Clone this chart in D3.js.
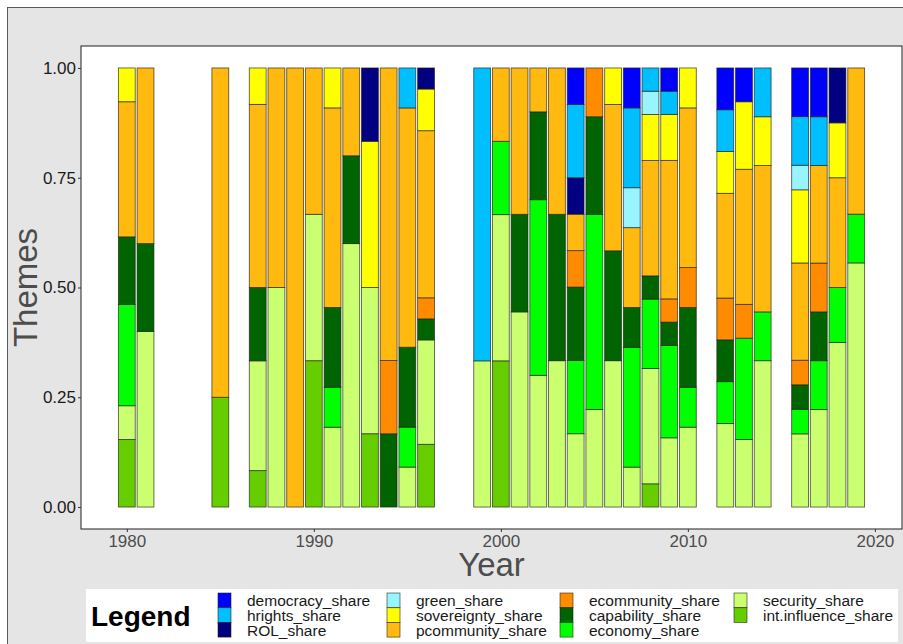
<!DOCTYPE html>
<html>
<head>
<meta charset="utf-8">
<script src="https://cdn.jsdelivr.net/npm/d3@7"></script>
<style>
  body { margin: 0; background: #fff; }
  text { font-family: "Liberation Sans", Arial, sans-serif; }
</style>
</head>
<body>
<svg id="chart" width="903" height="644"></svg>
<script>
var years = [1980, 1981, 1985, 1987, 1988, 1989, 1990, 1991, 1992, 1993, 1994, 1995, 1996,
             1999, 2000, 2001, 2002, 2003, 2004, 2005, 2006, 2007, 2008, 2009, 2010,
             2012, 2013, 2014, 2016, 2017, 2018, 2019];

// one value per year, same order as years
var democracy_share    = [0, 0, 0, 0, 0, 0, 0, 0, 0, 0, 0, 0, 0,   0, 0, 0, 0, 0, .083, 0, 0, .091, 0, .053, 0,   .095, .077, 0,   .111, .111, 0, 0];
var hrights_share      = [0, 0, 0, 0, 0, 0, 0, 0, 0, 0, 0, .091, 0,   .667, 0, 0, 0, 0, .167, 0, 0, .182, .053, .053, 0,   .095, 0, .111,   .111, .111, 0, 0];
var ROL_share          = [0, 0, 0, 0, 0, 0, 0, 0, 0, .167, 0, 0, .048,   0, 0, 0, 0, 0, .083, 0, 0, 0, 0, 0, 0,   0, 0, 0,   0, 0, .125, 0];
var green_share        = [0, 0, 0, 0, 0, 0, 0, 0, 0, 0, 0, 0, 0,   0, 0, 0, 0, 0, 0, 0, 0, .091, .053, 0, 0,   0, 0, 0,   .056, 0, 0, 0];
var sovereignty_share  = [.077, 0, 0, .083, 0, 0, 0, .091, 0, .333, 0, 0, .095,   0, 0, 0, 0, 0, 0, 0, .083, 0, .105, .105, .091,   .095, .154, .111,   .167, 0, .125, 0];
var pcommunity_share   = [.308, .4, .75, .417, .5, 1, .333, .455, .2, 0, .667, .545, .381,   0, .167, .333, .1, .333, .083, 0, .333, .182, .263, .316, .364,   .238, .308, .333,   .222, .222, .25, .333];
var ecommunity_share   = [0, 0, 0, 0, 0, 0, 0, 0, 0, 0, .167, 0, .048,   0, 0, 0, 0, 0, .083, .111, 0, 0, 0, .053, .091,   .095, .077, 0,   .056, .111, 0, 0];
var capability_share   = [.154, .2, 0, .167, 0, 0, 0, .182, .2, 0, .167, .182, .048,   0, 0, .222, .2, .333, .167, .222, .25, .091, .053, .053, .182,   .095, 0, 0,   .056, .111, 0, 0];
var economy_share      = [.231, 0, 0, 0, 0, 0, 0, .091, 0, 0, 0, .091, 0,   0, .167, 0, .4, 0, .167, .444, 0, .273, .158, .211, .091,   .095, .231, .111,   .056, .111, .125, .111];
var security_share     = [.077, .4, 0, .25, .5, 0, .333, .182, .6, .333, 0, .091, .238,   .333, .333, .444, .3, .333, .167, .222, .333, .091, .263, .158, .182,   .19, .154, .333,   .167, .222, .375, .556];
var influence_share    = [.154, 0, .25, .083, 0, 0, .333, 0, 0, .167, 0, 0, .143,   0, .333, 0, 0, 0, 0, 0, 0, 0, .053, 0, 0,   0, 0, 0,   0, 0, 0, 0];

var themes = ["democracy_share", "hrights_share", "ROL_share", "green_share", "sovereignty_share",
              "pcommunity_share", "ecommunity_share", "capability_share", "economy_share",
              "security_share", "int.influence_share"];
var colors = ["#0000FF", "#00BFFF", "#000080", "#98F5FF", "#FFFF00",
              "#FFB90F", "#FF8C00", "#006400", "#00FF00", "#CAFF70", "#66CD00"];
var seriesValues = [democracy_share, hrights_share, ROL_share, green_share, sovereignty_share,
                    pcommunity_share, ecommunity_share, capability_share, economy_share,
                    security_share, influence_share];
var yTicks = [0, 0.25, 0.5, 0.75, 1];
var xTicks = [1980, 1990, 2000, 2010, 2020];

(function() {
  var rows = years.map(function(yr, i) {
    var r = {year: yr};
    themes.forEach(function(t, k) { r[t] = seriesValues[k][i]; });
    return r;
  });

  var svg = d3.select("#chart");

  // outer grey plot background
  svg.append("rect")
      .attr("x", 7.5).attr("y", 7.5)
      .attr("width", 1000).attr("height", 1000)
      .attr("fill", "#e5e5e5")
      .attr("stroke", "#5a5a5a");

  var pl = 81, pr = 902, pt = 46, pb = 529;

  var x = d3.scaleLinear().domain([1977.55, 2021.45]).range([pl, pr]);
  var y = d3.scaleLinear().domain([-0.05, 1.05]).range([pb, pt]);
  var color = d3.scaleOrdinal().domain(themes).range(colors);

  svg.append("rect")
      .attr("x", pl).attr("y", pt)
      .attr("width", pr - pl).attr("height", pb - pt)
      .attr("fill", "#fff");

  // bottom layer is the last theme, so stack in reverse order
  var stack = d3.stack()
      .keys(themes.slice().reverse())
      .offset(d3.stackOffsetExpand);
  var layers = stack(rows);

  var bw = x(1980.45) - x(1979.55);

  svg.append("g").selectAll("g")
    .data(layers)
    .join("g")
      .attr("fill", function(d) { return color(d.key); })
    .selectAll("rect")
    .data(function(d) { return d.filter(function(p) { return p[1] - p[0] > 0; }); })
    .join("rect")
      .attr("x", function(d) { return x(d.data.year) - bw / 2; })
      .attr("y", function(d) { return y(d[1]); })
      .attr("width", bw)
      .attr("height", function(d) { return y(d[0]) - y(d[1]); })
      .attr("stroke", "rgba(30,30,20,0.7)")
      .attr("stroke-width", 0.9);

  // panel border
  svg.append("rect")
      .attr("x", pl).attr("y", pt)
      .attr("width", pr - pl).attr("height", pb - pt)
      .attr("fill", "none")
      .attr("stroke", "#333")
      .attr("stroke-width", 1.1);

  // y axis
  var yAxis = d3.axisLeft(y).tickValues(yTicks).tickFormat(d3.format(".2f")).tickSize(3).tickPadding(2);
  var gy = svg.append("g").attr("transform", "translate(" + pl + ",0)").call(yAxis);
  gy.select(".domain").remove();
  gy.selectAll(".tick line").attr("stroke", "#333");
  gy.selectAll(".tick text").attr("fill", "#1a1a1a").style("font-size", "17px")
      .style("font-family", "'Liberation Sans', Arial, sans-serif");

  // x axis
  var xAxis = d3.axisBottom(x).tickValues(xTicks).tickFormat(d3.format("d")).tickSize(3).tickPadding(3);
  var gx = svg.append("g").attr("transform", "translate(0," + pb + ")").call(xAxis);
  gx.select(".domain").remove();
  gx.selectAll(".tick line").attr("stroke", "#333");
  gx.selectAll(".tick text").attr("fill", "#4d4d4d").style("font-size", "17px")
      .style("font-family", "'Liberation Sans', Arial, sans-serif");

  // axis titles
  svg.append("text")
      .attr("x", (pl + pr) / 2).attr("y", 576)
      .attr("text-anchor", "middle")
      .attr("fill", "#4d4d4d")
      .style("font-size", "33px")
      .text("Year");

  svg.append("text")
      .attr("transform", "translate(37," + ((pt + pb) / 2) + ") rotate(-90)")
      .attr("text-anchor", "middle")
      .attr("fill", "#4d4d4d")
      .style("font-size", "33px")
      .text("Themes");

  // legend
  var lg = svg.append("g");
  lg.append("rect")
      .attr("x", 86).attr("y", 589)
      .attr("width", 812).attr("height", 53)
      .attr("fill", "#fff");
  lg.append("text")
      .attr("x", 91).attr("y", 626)
      .attr("fill", "#000")
      .style("font-size", "28px")
      .style("font-weight", "bold")
      .text("Legend");

  var colX = [218, 387, 560, 734];
  var keyH = 14.7;
  themes.forEach(function(t, i) {
    var col = Math.floor(i / 3), row = i % 3;
    var kx = colX[col], ky = 593 + row * keyH;
    lg.append("rect")
        .attr("x", kx).attr("y", ky)
        .attr("width", 13).attr("height", keyH)
        .attr("fill", color(t))
        .attr("stroke", "rgba(30,30,20,0.7)")
        .attr("stroke-width", 0.8);
    lg.append("text")
        .attr("x", kx + 29).attr("y", ky + keyH - 1.5)
        .attr("fill", "#1a1a1a")
        .style("font-size", "15.5px")
        .text(t);
  });
})();
</script>
</body>
</html>
